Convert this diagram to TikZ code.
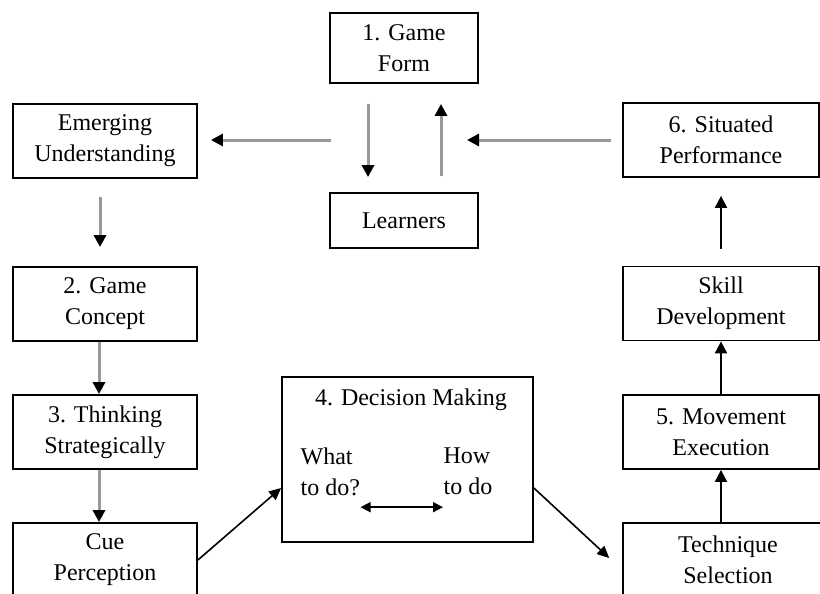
\documentclass[tikz,border=0pt]{standalone}
\usepackage{fontspec}
\setmainfont{Liberation Serif}
\usetikzlibrary{arrows.meta}
\usetikzlibrary{positioning}

\begin{document}
\begin{tikzpicture}[x=0.5pt, y=-0.5pt, semithick]
 				 \tikzstyle{box}=[draw, line width=0.9pt, inner sep=0pt, align=center, font=\fontsize{12}{15.5}\selectfont]
 				 \tikzstyle{side}=[box, minimum width=92pt, minimum height=37pt]
 				 \tikzstyle{rside}=[box, minimum width=98pt, minimum height=37pt]
 				 \tikzstyle{txt}=[inner sep=0pt, align=left, font=\fontsize{12}{15.5}\selectfont]
 				 \tikzstyle{garr}=[draw=black!40, line width=1.5pt, -{Triangle[black, length=6pt, width=6pt]}]
 				 \tikzstyle{barr}=[draw=black, line width=1pt, -{Triangle[length=6pt, width=6pt]}]
 				 \tikzstyle{darr}=[draw=black, line width=0.8pt, -{Triangle[length=6pt, width=5.5pt]}]
 				 \useasboundingbox (0,0) rectangle (820,594);
 				 \clip (0,0) rectangle (820,594);
 					 \node[box, minimum width=74pt, minimum height=35pt] (form) at (404,48) {1. Game\\Form};
 					 \node[box, minimum width=74pt, minimum height=27.5pt] (learn) at (404,220.5) {Learners};
 					 \node[side]          (emerg) at (105,141) {Emerging\\Understanding};
 					 \node[side]          (concept) at (105,304) {2. Game\\Concept};
 					 \node[side]          (think) at (105,432) {3. Thinking\\Strategically};
 					 \node[side]          (cue) at (105,560) {Cue\\Perception};
 					 \node[box, minimum width=125.5pt, minimum height=82.5pt] (decide) at (407.5,459.5) {};
 					 \node[txt]           (dtitle) at (411,400) {4. Decision Making};
 					 \node[txt, anchor=north west] (what) at (300,447) {What\\to do?};
 					 \node[txt, anchor=north west] (how) at (443,447) {How\\to do};
 					 \node[rside]         (situ) at (721,140) {6. Situated\\Performance};
 					 \node[rside]         (skill) at (721,303.5) {Skill\\Development};
 					 \node[rside]         (move) at (721,432) {5. Movement\\Execution};
 					 \node[rside, minimum width=105pt] (tech) at (728,560) {Technique\\Selection};
 					 \coordinate (hubL) at (331,140);
 					 \coordinate (hubR) at (467,140);
				\path
				([xshift=-18pt]form.south) edge [garr, shorten <=10pt, shorten >=7.5pt] ([xshift=-18pt]learn.north)
				([xshift=18.5pt]learn.north) edge [garr, shorten <=8pt, shorten >=10pt] ([xshift=18.5pt]form.south)
				(hubL) edge [garr, shorten >=6.5pt] (emerg.east |- hubL)
				(situ.west) edge [garr, shorten <=5.5pt] (hubR)
				([xshift=-2.5pt]emerg.south) edge [garr, shorten <=9pt, shorten >=9.5pt] ([xshift=-2.5pt]concept.north)
				([xshift=-3pt]concept.south) edge [garr] ([xshift=-3pt]think.north)
				([xshift=-3pt]think.south) edge [garr] ([xshift=-3pt]cue.north)
				(cue.east) edge [darr] ([yshift=-14.25pt]decide.west)
				([yshift=-14.25pt]decide.east) edge [darr, shorten >=8.8pt] ([yshift=-5pt]tech.west)
				(tech.north -| move.south) edge [barr] (move.south)
				(move.north) edge [barr] (skill.south)
				(skill.north) edge [barr, shorten <=8.5pt, shorten >=9pt] (situ.south)
				([yshift=-5.5pt]what.south east) edge [<->, >={Triangle[length=5pt, width=5pt]}, line width=0.8pt] ([yshift=-5.5pt]how.south west |- what.south east);
\end{tikzpicture}
\end{document}
